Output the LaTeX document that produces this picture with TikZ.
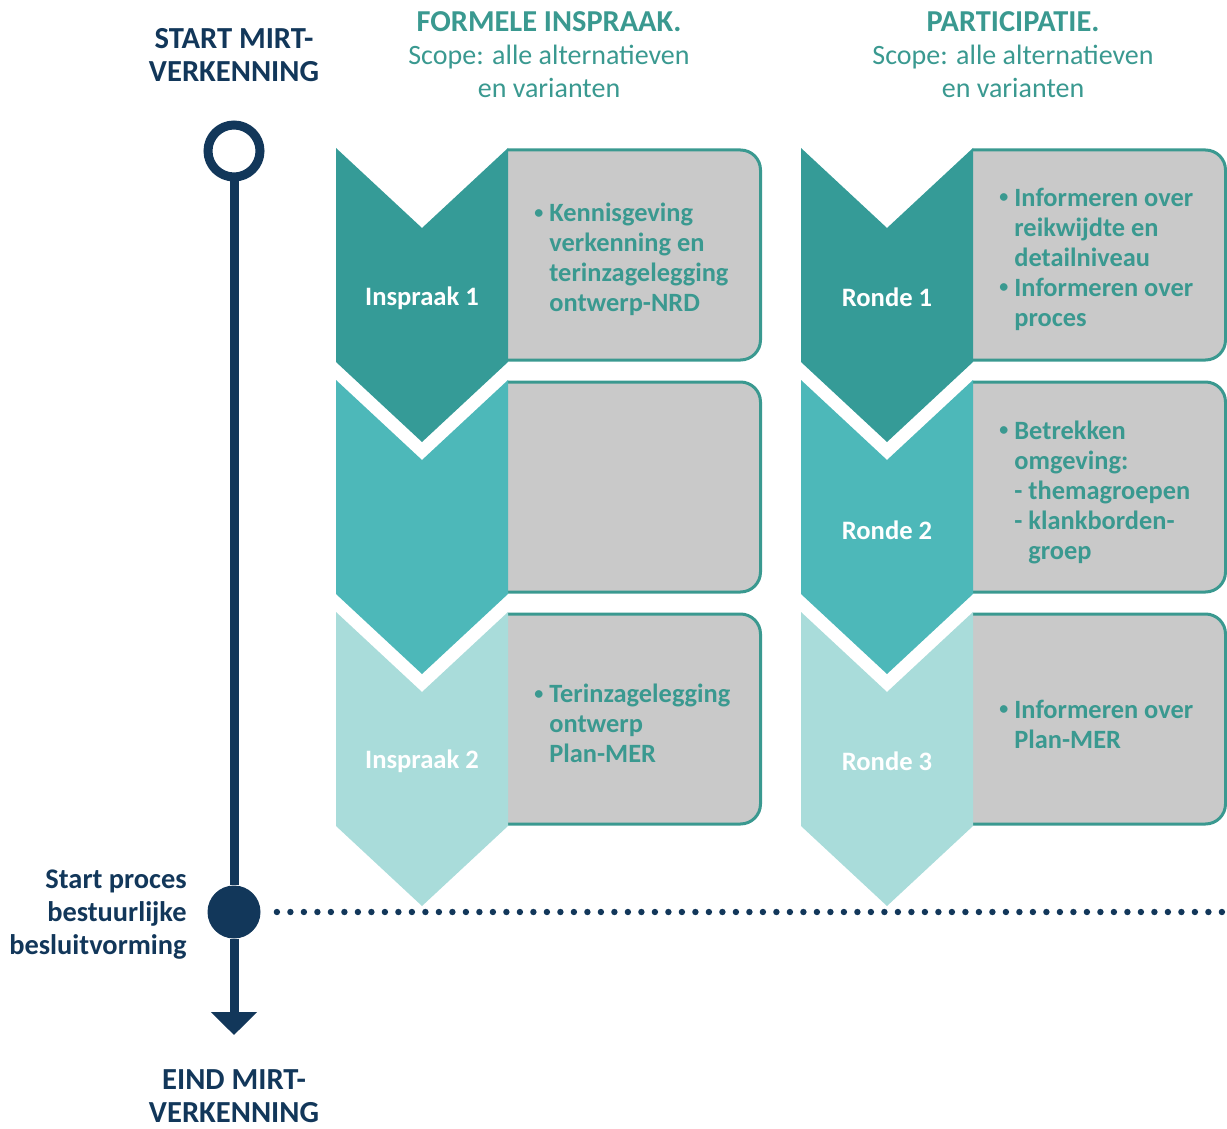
\documentclass[tikz,border=0pt]{standalone}
\usepackage{fontspec}
\setmainfont{Carlito}
\usetikzlibrary{arrows.meta,positioning}

\definecolor{navy}{HTML}{12375A}
\definecolor{tealA}{HTML}{359B97}
\definecolor{tealB}{HTML}{4DB8B9}
\definecolor{tealC}{HTML}{A9DCDA}
\definecolor{tealtxt}{HTML}{3A9990}
\definecolor{boxgray}{HTML}{C9C9C9}

\newcommand{\bul}{\makebox[8pt][l]{\hspace*{0.5pt}\raisebox{0.12em}{\fontsize{9}{9}\selectfont\textbullet}}}
\newcommand{\ind}{\hspace*{8pt}}

\tikzset{
	infobox/.style={fill=boxgray, draw=tealtxt, line width=1.5pt, rounded corners=10pt},
	boxtxt/.style={anchor=west, align=left, inner sep=0pt, text=tealtxt, font=\bfseries\fontsize{13.2}{15}\selectfont},
	chevlbl/.style={text=white, inner sep=0pt, font=\bfseries\fontsize{13.3}{15}\selectfont},
	headtxt/.style={align=center, inner sep=0pt, text=tealtxt, font=\fontsize{14}{16.5}\selectfont},
	navytxt/.style={inner sep=0pt, text=navy, font=\bfseries\fontsize{14.2}{16.5}\selectfont},
	timeline/.style={navy, line width=4.5pt}
}

\begin{document}
\begin{tikzpicture}[x=0.5pt, y=-0.5pt]
	\useasboundingbox (0,0) rectangle (1227,1129);

	% grijze vakken
	\foreach \bx in {508,973} {
		\foreach \row in {0,1,2} {
			\pgfmathsetmacro\ty{148+232*\row}
			\filldraw[infobox] (\bx,\ty+2) -- (\bx+252.5,\ty+2) -- (\bx+252.5,\ty+212) -- (\bx,\ty+212);
		}
	}

	% pijlvormen
	\foreach \cx in {422,887} {
		\foreach \row/\col in {0/tealA,1/tealB,2/tealC} {
			\pgfmathsetmacro\ty{148+232*\row}
			\fill[\col] (\cx-86,\ty) -- (\cx,\ty+80) -- (\cx+86,\ty) -- (\cx+86,\ty+214)
				-- (\cx,\ty+294) -- (\cx-86,\ty+214) -- cycle;
		}
	}

	\node[chevlbl]	(insp1)	at (422,298)	{Inspraak 1};
	\node[chevlbl]	(insp2)	at (422,761)	{Inspraak 2};
	\node[chevlbl]	(ronde1)	at (887,297)	{Ronde 1};
	\node[chevlbl]	(ronde2)	at (887,530)	{Ronde 2};
	\node[chevlbl]	(ronde3)	at (887,761)	{Ronde 3};

	% teksten in de vakken
	\node[boxtxt]	(kennis)	at (533,259)	{\bul Kennisgeving\\\ind verkenning en\\\ind terinzagelegging\\\ind ontwerp-NRD};
	\node[boxtxt]	(terinz)	at (533,723)	{\bul Terinzagelegging\\\ind ontwerp\\\ind Plan-MER};
	\node[boxtxt]	(inf1)	at (998,259)	{\bul Informeren over\\\ind reikwijdte en\\\ind detailniveau\\\bul Informeren over\\\ind proces};
	\node[boxtxt]	(betrek)	at (998,492)	{\bul Betrekken\\\ind omgeving:\\\ind - themagroepen\\\ind - klankborden-\\\ind\hspace*{7pt}groep};
	\node[boxtxt]	(inf3)	at (998,724)	{\bul Informeren over\\\ind Plan-MER};

	% kopjes
	\node[headtxt]	(formeel)	at (549,55)	{{\bfseries\fontsize{15.2}{16.5}\selectfont FORMELE INSPRAAK.}\\Scope: alle alternatieven\\en varianten};
	\node[headtxt]	(partic)	at (1013,55)	{{\bfseries\fontsize{15.2}{16.5}\selectfont PARTICIPATIE.}\\Scope: alle alternatieven\\en varianten};

	% tijdlijn
	\node[navytxt, align=center, font=\bfseries\fontsize{15.3}{16.5}\selectfont]	(startlbl)	at (234,55)	{START MIRT-\\VERKENNING};
	\node[navytxt, align=center, font=\bfseries\fontsize{15.3}{16.5}\selectfont]	(eindlbl)	at (234,1096)	{EIND MIRT-\\VERKENNING};
	\node[navytxt, align=right, anchor=east]	(beslbl)	at (187,915)	{Start proces\\bestuurlijke\\besluitvorming};

	\node[circle, draw=navy, line width=4.5pt, minimum size=26pt, inner sep=0pt]	(start)	at (234,151)	{};
	\node[circle, fill=navy, minimum size=26.5pt, inner sep=0pt]	(besluit)	at (234,912)	{};
	\coordinate	(eind)	at (234,1035);
	\coordinate	(stip)	at (1227,912);

	\draw[timeline]	(start) -- (besluit);
	\draw[timeline, -{Triangle[width=22.5pt, length=11.5pt]}]	(besluit) -- (eind);
	\draw[navy, line width=3.2pt, line cap=round, dash pattern=on 0pt off 6.75pt, shorten <=8pt]	(besluit) -- (stip);
\end{tikzpicture}
\end{document}
